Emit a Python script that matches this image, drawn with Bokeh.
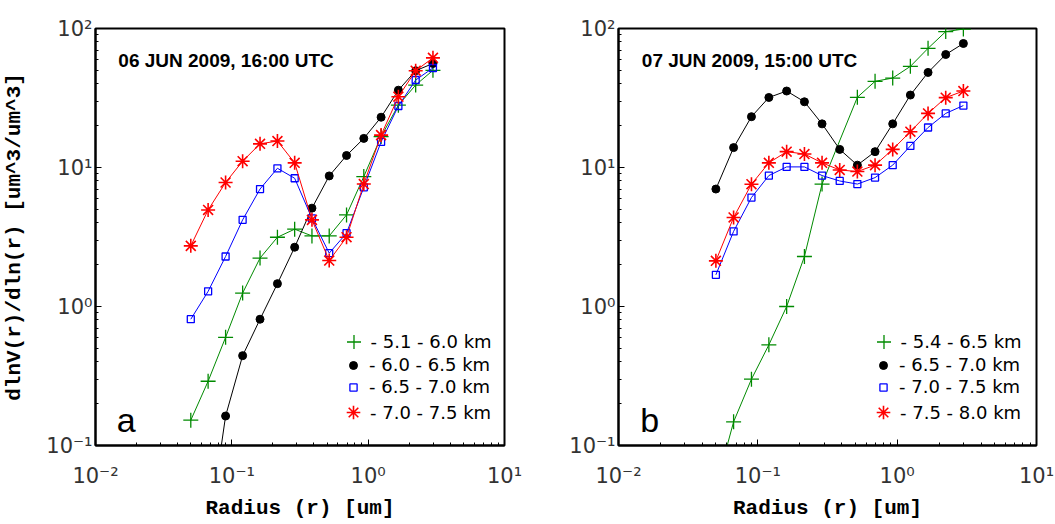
from bokeh.plotting import figure
from bokeh.layouts import row
from bokeh.models import FixedTicker, CustomJSTickFormatter, Label, Legend, LegendItem
from bokeh.embed import file_html
from bokeh.resources import INLINE

# ---------------- data ----------------
radius = [0.050, 0.067, 0.090, 0.120, 0.161, 0.216, 0.289, 0.387, 0.518,
          0.694, 0.929, 1.244, 1.666, 2.231, 2.987]

# panel a : 06 JUN 2009, 16:00 UTC
a_green = [0.152, 0.29, 0.60, 1.25, 2.23, 3.15, 3.6, 3.22, 3.22, 4.56, 8.6, 16.7, 28.1, 39.2, 50.0]
a_black = [0.004, 0.022, 0.163, 0.443, 0.81, 1.46, 2.67, 5.1, 8.7, 12.2, 16.2, 23.0, 36.0, 49.7, 56.0]
a_blue = [0.81, 1.285, 2.29, 4.2, 7.0, 9.87, 8.37, 4.3, 2.42, 3.37, 7.2, 15.3, 27.7, 42.6, 52.0]
a_red = [2.73, 4.95, 7.8, 11.1, 14.8, 15.5, 10.8, 4.2, 2.14, 3.15, 7.6, 17.1, 32.3, 49.7, 61.5]
a_labels = ["- 5.1 - 6.0 km", "- 6.0 - 6.5 km", "- 6.5 - 7.0 km", "- 7.0 - 7.5 km"]

# panel b : 07 JUN 2009, 15:00 UTC
b_green_radius = [0.050, 0.067, 0.090, 0.120, 0.161, 0.216, 0.289, 0.518,
                  0.694, 0.929, 1.244, 1.666, 2.231, 2.987]
b_green = [0.05, 0.148, 0.30, 0.53, 1.0, 2.29, 7.6, 32.0, 41.7, 44.0, 53.4, 72.0, 95.0, 99.0]
b_black = [7.0, 13.9, 23.2, 31.9, 35.5, 29.7, 20.6, 13.5, 10.4, 13.0, 20.6, 33.2, 48.3, 65.0, 78.0]
b_blue = [1.69, 3.47, 6.08, 8.75, 10.1, 10.1, 8.75, 8.0, 7.6, 8.46, 10.4, 14.3, 19.4, 24.5, 27.9]
b_red = [2.13, 4.37, 7.58, 10.8, 13.0, 12.5, 10.8, 9.6, 9.35, 10.4, 13.5, 18.1, 24.5, 31.8, 35.5]
b_labels = ["- 5.4 - 6.5 km", "- 6.5 - 7.0 km", "- 7.0 - 7.5 km", "- 7.5 - 8.0 km"]

x_major = [0.01, 0.1, 1, 10]
y_major = [0.1, 1, 10, 100]

GREEN = "#008a00"
TICK_FONT = "DejaVu Sans"
LABEL_FONT = "Liberation Mono"

POW10 = CustomJSTickFormatter(code="""
const sup = {"-": "\u207b", "0": "\u2070", "1": "\u00b9", "2": "\u00b2", "3": "\u00b3",
             "4": "\u2074", "5": "\u2075", "6": "\u2076", "7": "\u2077", "8": "\u2078", "9": "\u2079"};
const e = Math.round(Math.log10(tick));
return "10" + String(e).split("").map(c => sup[c]).join("");
""")


def make_panel(width, bl, br, series, labels, title, letter, ylabel, leg_x):
    p = figure(width=width, height=522, x_axis_type="log", y_axis_type="log",
               x_range=(0.01, 10), y_range=(0.1, 100),
               output_backend="svg", toolbar_location=None,
               min_border_left=bl, min_border_right=br,
               min_border_top=28, min_border_bottom=76)
    p.grid.visible = False
    p.outline_line_color = "black"
    p.outline_line_width = 2
    p.background_fill_color = "white"
    p.border_fill_color = "white"

    xminor = [m * 10 ** e for e in range(-2, 1) for m in range(2, 10)]
    yminor = [m * 10 ** e for e in range(-1, 2) for m in range(2, 10)]
    p.xaxis.ticker = FixedTicker(ticks=x_major, minor_ticks=xminor)
    p.yaxis.ticker = FixedTicker(ticks=y_major, minor_ticks=yminor)
    for ax in (p.xaxis[0], p.yaxis[0]):
        ax.formatter = POW10
        ax.major_tick_in = 6
        ax.major_tick_out = 0
        ax.minor_tick_in = 3
        ax.minor_tick_out = 0
        ax.axis_line_width = 2
        ax.major_tick_line_width = 1
        ax.minor_tick_line_width = 1
        ax.major_label_text_font = TICK_FONT
        ax.major_label_text_font_size = "21px"
        ax.major_label_text_color = "#333333"
        ax.axis_label_text_font = LABEL_FONT
        ax.axis_label_text_font_style = "bold"
        ax.axis_label_text_font_size = "21px"
        ax.axis_label_text_color = "black"
    p.xaxis.major_label_standoff = 18
    p.yaxis.major_label_standoff = 3
    p.xaxis.axis_label = "Radius (r) [um]"
    p.xaxis.axis_label_standoff = 6
    if ylabel:
        p.yaxis.axis_label = ylabel
        p.yaxis.axis_label_standoff = 17

    markers = []
    for (xs, ys, color, marker, msize, lw) in series:
        p.line(xs, ys, line_color=color, line_width=1)
        if marker == "circle":
            r = p.scatter(xs, ys, marker="circle", size=msize, fill_color=color,
                          line_color=color)
        else:
            r = p.scatter(xs, ys, marker=marker, size=msize, fill_color=None,
                          line_color=color, line_width=lw)
        markers.append(r)

    # legend: one Legend per row so every marker keeps its own size
    row_y = [104, 80, 57, 33]
    gsizes = [35, 20, 18, 34]
    for r, lab, ry, g in zip(markers, labels, row_y, gsizes):
        lg = Legend(items=[LegendItem(label=lab, renderers=[r])],
                    location=(leg_x - g / 2, ry - g / 2),
                    glyph_width=g, glyph_height=g, label_height=g,
                    label_standoff=int(round(16 - g / 2)),
                    padding=0, margin=0, spacing=0,
                    border_line_color=None, background_fill_color=None,
                    label_text_font=TICK_FONT, label_text_font_size="18px",
                    label_text_color="black")
        p.add_layout(lg)

    p.add_layout(Label(x=0.0147, y=59, text=title, text_font="Liberation Sans",
                       text_font_style="bold", text_font_size="19px",
                       text_baseline="alphabetic", text_color="black"))
    p.add_layout(Label(x=0.0143, y=0.152, text=letter, text_font="Liberation Sans",
                       text_font_size="34px", text_baseline="alphabetic",
                       text_color="black"))
    return p


series_a = [
    (radius, a_green, GREEN, "cross", 15, 1.3),
    (radius, a_black, "black", "circle", 8, 1),
    (radius, a_blue, "blue", "square", 7, 1.3),
    (radius, a_red, "red", "asterisk", 14, 1.6),
]
series_b = [
    (b_green_radius, b_green, GREEN, "cross", 15, 1.3),
    (radius, b_black, "black", "circle", 8, 1),
    (radius, b_blue, "blue", "square", 7, 1.3),
    (radius, b_red, "red", "asterisk", 14, 1.6),
]

p1 = make_panel(528, 91, 24, series_a, a_labels, "06 JUN 2009, 16:00 UTC", "a",
                "dlnV(r)/dln(r) [um^3/um^3]", 258)
p2 = make_panel(526, 90, 18, series_b, b_labels, "07 JUN 2009, 15:00 UTC", "b",
                None, 265)

layout = row(p1, p2)
open("out.html", "w").write(file_html(layout, INLINE))
